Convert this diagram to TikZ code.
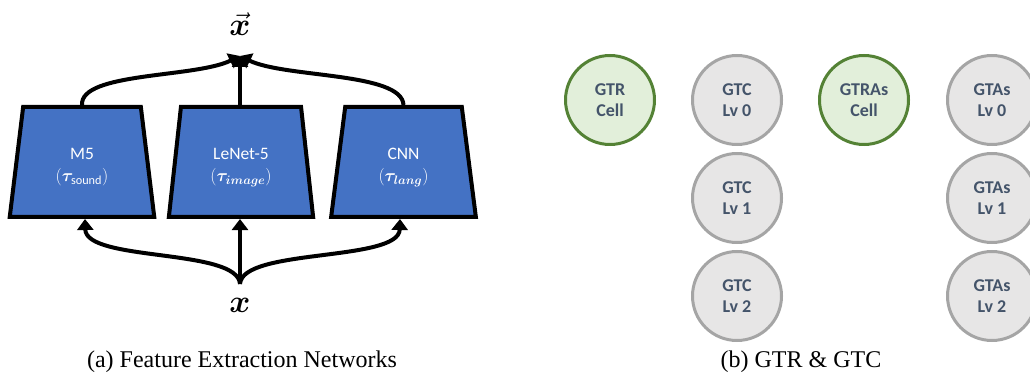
\RequirePackage{fix-cm}
\documentclass[tikz,border=0pt]{standalone}
\usepackage{amsmath}
\usepackage{amssymb}
\usepackage{bm}
\usepackage{fontspec}
\setmainfont{Carlito}
\newfontfamily\capfont{Liberation Serif}
\usepackage{tikz}
\usetikzlibrary{shapes.geometric}
\usetikzlibrary{arrows.meta}
\definecolor{netblue}{HTML}{4472C4}
\definecolor{cellgreen}{HTML}{E2EFDA}
\definecolor{cellgreenline}{HTML}{548235}
\definecolor{cellgrey}{HTML}{E7E6E6}
\definecolor{cellgreyline}{HTML}{A5A5A5}
\definecolor{celltext}{HTML}{44546A}
\tikzset{
	netbox/.style={trapezium, trapezium left angle=83, trapezium right angle=83, trapezium stretches=true,
		minimum width=145pt, minimum height=110pt, fill=netblue, draw=black, line width=4pt,
		text=white, align=center, font=\fontsize{17.5}{24}\selectfont},
	cellbase/.style={circle, minimum size=89pt, line width=3pt, align=center, text=celltext,
		font=\fontsize{18}{21}\selectfont\bfseries, inner sep=0pt},
	rootcell/.style={cellbase, fill=cellgreen, draw=cellgreenline},
	levelcell/.style={cellbase, fill=cellgrey, draw=cellgreyline},
	flow/.style={line width=4pt, -{Triangle[width=16pt,length=11pt]}},
	caption/.style={font=\capfont\fontsize{24}{28}\selectfont}
}
\begin{document}
\begin{tikzpicture}[x=1pt,y=-1pt]
	\useasboundingbox (0,0) rectangle (1030,379);
	% (a) feature extraction networks
	\node[netbox] (m5) at (82,162) {\rule{0pt}{22pt}M5\\[-2pt]$(\bm{\tau}_{\text{sound}})$};
	\node[netbox] (lenet) at (241,162) {\rule{0pt}{22pt}LeNet-5\\[-2pt]$(\bm{\tau}_{\bm{image}})$};
	\node[netbox] (cnn) at (403.5,162) {\rule{0pt}{22pt}CNN\\[-2pt]$(\bm{\tau}_{\bm{lang}})$};
	\coordinate (xout) at (240,56);
	\coordinate (xin) at (240,284);
	\node[font=\fontsize{32}{36}\selectfont] (vecx) at (240,24) {$\vec{\bm{x}}$};
	\node[font=\fontsize{32}{36}\selectfont] (inx) at (240,305) {$\bm{x}$};
	\draw[flow] (m5.north) .. controls (80,72) and (195,78) .. (xout);
	\draw[flow] (cnn.north) .. controls (402,72) and (285,78) .. (xout);
	\draw[flow] (lenet.north -| xout) -- (xout);
	\draw[flow] (xin) .. controls (238,248) and (86,262) .. (m5.south -| 85,0);
	\draw[flow] (xin) .. controls (242,248) and (399,262) .. (cnn.south -| 400,0);
	\draw[flow] (xin) -- (lenet.south -| xin);
	\node[caption] (capa) at (242,362) {(a) Feature Extraction Networks};
	% (b) GTR and GTC
	\node[rootcell] (gtr) at (610,100) {GTR\\Cell};
	\foreach \lv in {0,1,2} {
		\node[levelcell] (gtc\lv) at (737,100+98*\lv) {GTC\\Lv \lv};
		\node[levelcell] (gtas\lv) at (992,100+98*\lv) {GTAs\\Lv \lv};
	}
	\node[rootcell] (gtras) at (864,100) {GTRAs\\Cell};
	\node[caption] (capb) at (801,362) {(b) GTR \& GTC};
\end{tikzpicture}
\end{document}
